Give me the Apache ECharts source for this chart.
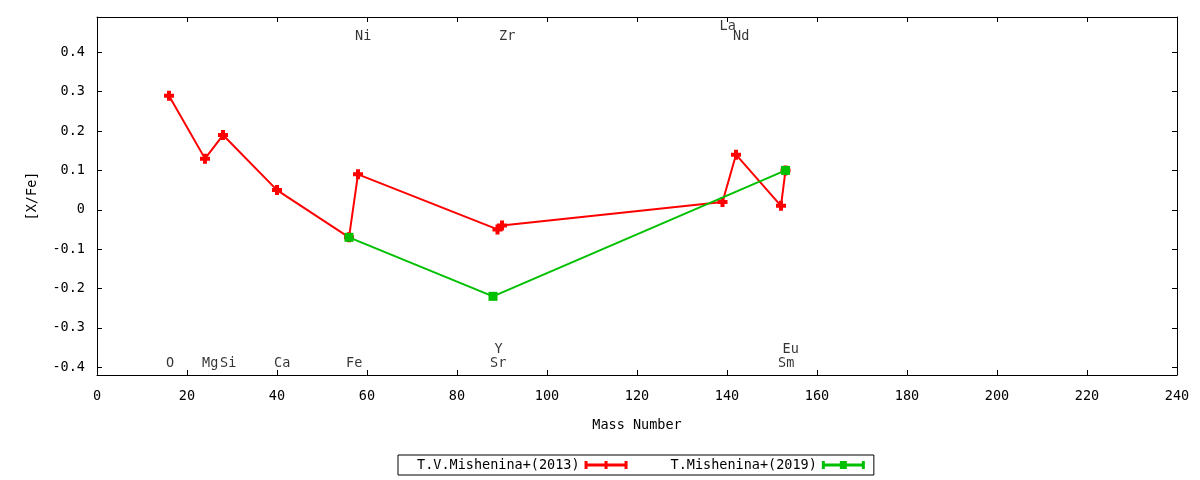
<!DOCTYPE html>
<html>
<head>
<meta charset="utf-8">
<script src="https://cdn.jsdelivr.net/npm/echarts@6/dist/echarts.min.js"></script>
<style>
  html, body { margin: 0; padding: 0; background: #fff; }
  #chart { width: 1200px; height: 480px; }
</style>
</head>
<body>
<div id="chart"></div>
<script>
// T.V.Mishenina+(2013)
const redElems = ['O', 'Mg', 'Si', 'Ca', 'Fe', 'Ni', 'Y', 'Zr', 'La', 'Nd', 'Sm', 'Eu'];
const redMass = [16, 24, 28, 40, 56, 58, 89, 90, 139, 142, 152, 153];
const redXFe = [0.29, 0.13, 0.19, 0.05, -0.07, 0.09, -0.05, -0.04, 0.02, 0.14, 0.01, 0.10];

// T.Mishenina+(2019)
const greenElems = ['Fe', 'Sr', 'Eu'];
const greenMass = [56, 88, 153];
const greenXFe = [-0.07, -0.22, 0.10];

// element labels (gnuplot "set label")
const labelNames = ['O', 'Mg', 'Si', 'Ca', 'Fe', 'Ni', 'Sr', 'Y', 'Zr', 'La', 'Nd', 'Sm', 'Eu'];
const labelMass = [16, 24, 28, 40, 56, 58, 88, 89, 90, 139, 142, 152, 153];
const labelY = [-0.39, -0.39, -0.39, -0.39, -0.39, 0.44, -0.39, -0.355, 0.44, 0.465, 0.44, -0.39, -0.355];

const yTicks = [-0.4, -0.3, -0.2, -0.1, 0, 0.1, 0.2, 0.3, 0.4];

const FONT = 'DejaVu Sans Mono';
const FS = 13.5;
const plus = 'path://M3,0H7V3H10V7H7V10H3V7H0V3H3Z';
const redIcon = 'path://M0,0H3V8H0Z M3,2.5H40V5.5H3Z M40,0H43V8H40Z M20,0H23V8H20Z';
const greenIcon = 'path://M0,0H3V8H0Z M3,2.5H40V5.5H3Z M40,0H43V8H40Z M18,0H25V8H18Z';

const pair = (xs, ys) => xs.map((x, i) => [x, ys[i]]);

const chart = echarts.init(document.getElementById('chart'));

const tickStyle = { show: true, inside: true, length: 5, lineStyle: { color: '#000', width: 1 } };
const lineStyle = { show: true, onZero: false, lineStyle: { color: '#000', width: 1 } };

chart.setOption({
    animation: false,
    backgroundColor: '#fff',
    textStyle: { fontFamily: FONT },
    grid: { left: 97, right: 23, top: 17, bottom: 105 },
    legend: {
        left: 398,
        top: 455,
        orient: 'horizontal',
        align: 'right',
        itemWidth: 43,
        itemHeight: 8,
        itemGap: 43,
        padding: [3, 9, 3, 19],
        borderColor: '#000',
        borderWidth: 1,
        borderRadius: 0,
        textStyle: { fontFamily: FONT, fontSize: FS, color: '#000' },
        data: [
            { name: 'T.V.Mishenina+(2013)', icon: redIcon },
            { name: 'T.Mishenina+(2019)', icon: greenIcon }
        ]
    },
    xAxis: [
        {
            type: 'value', min: 0, max: 240, interval: 20,
            name: 'Mass Number', nameLocation: 'middle', nameGap: 43,
            nameTextStyle: { fontFamily: FONT, fontSize: FS, color: '#000' },
            axisLine: lineStyle, axisTick: tickStyle, splitLine: { show: false },
            axisLabel: { margin: 14, fontFamily: FONT, fontSize: FS, color: '#000' }
        },
        {
            type: 'value', position: 'top', min: 0, max: 240, interval: 20,
            axisLine: lineStyle, axisTick: tickStyle, splitLine: { show: false },
            axisLabel: { show: false }
        }
    ],
    yAxis: [
        {
            type: 'value', min: -0.42, max: 0.49,
            name: '[X/Fe]', nameLocation: 'middle', nameGap: 58, nameRotate: 90,
            nameTextStyle: { fontFamily: FONT, fontSize: FS, color: '#000' },
            axisLine: lineStyle,
            axisTick: Object.assign({ customValues: yTicks }, tickStyle),
            splitLine: { show: false },
            axisLabel: {
                customValues: yTicks, margin: 12,
                fontFamily: FONT, fontSize: FS, color: '#000',
                formatter: v => (Math.abs(v) < 1e-9 ? '0' : v.toFixed(1))
            }
        },
        {
            type: 'value', position: 'right', min: -0.42, max: 0.49,
            axisLine: lineStyle,
            axisTick: Object.assign({ customValues: yTicks }, tickStyle),
            splitLine: { show: false },
            axisLabel: { show: false }
        }
    ],
    series: [
        {
            name: 'T.V.Mishenina+(2013)',
            type: 'line',
            data: pair(redMass, redXFe),
            symbol: plus,
            symbolSize: 10,
            color: '#ff0000',
            lineStyle: { width: 2, color: '#ff0000' },
            itemStyle: { color: '#ff0000' },
            z: 3
        },
        {
            name: 'T.Mishenina+(2019)',
            type: 'line',
            data: pair(greenMass, greenXFe),
            symbol: 'rect',
            symbolSize: 9,
            color: '#00c000',
            lineStyle: { width: 2, color: '#00c000' },
            itemStyle: { color: '#00c000' },
            z: 4
        },
        {
            name: 'labels',
            type: 'scatter',
            silent: true,
            symbolSize: 0,
            data: labelMass.map((m, i) => ({ value: [m, labelY[i]], name: labelNames[i] })),
            label: {
                show: true,
                position: 'right',
                distance: -3,
                formatter: p => p.name,
                fontFamily: FONT,
                fontSize: FS,
                color: '#000'
            },
            z: 5
        }
    ]
});
</script>
</body>
</html>
